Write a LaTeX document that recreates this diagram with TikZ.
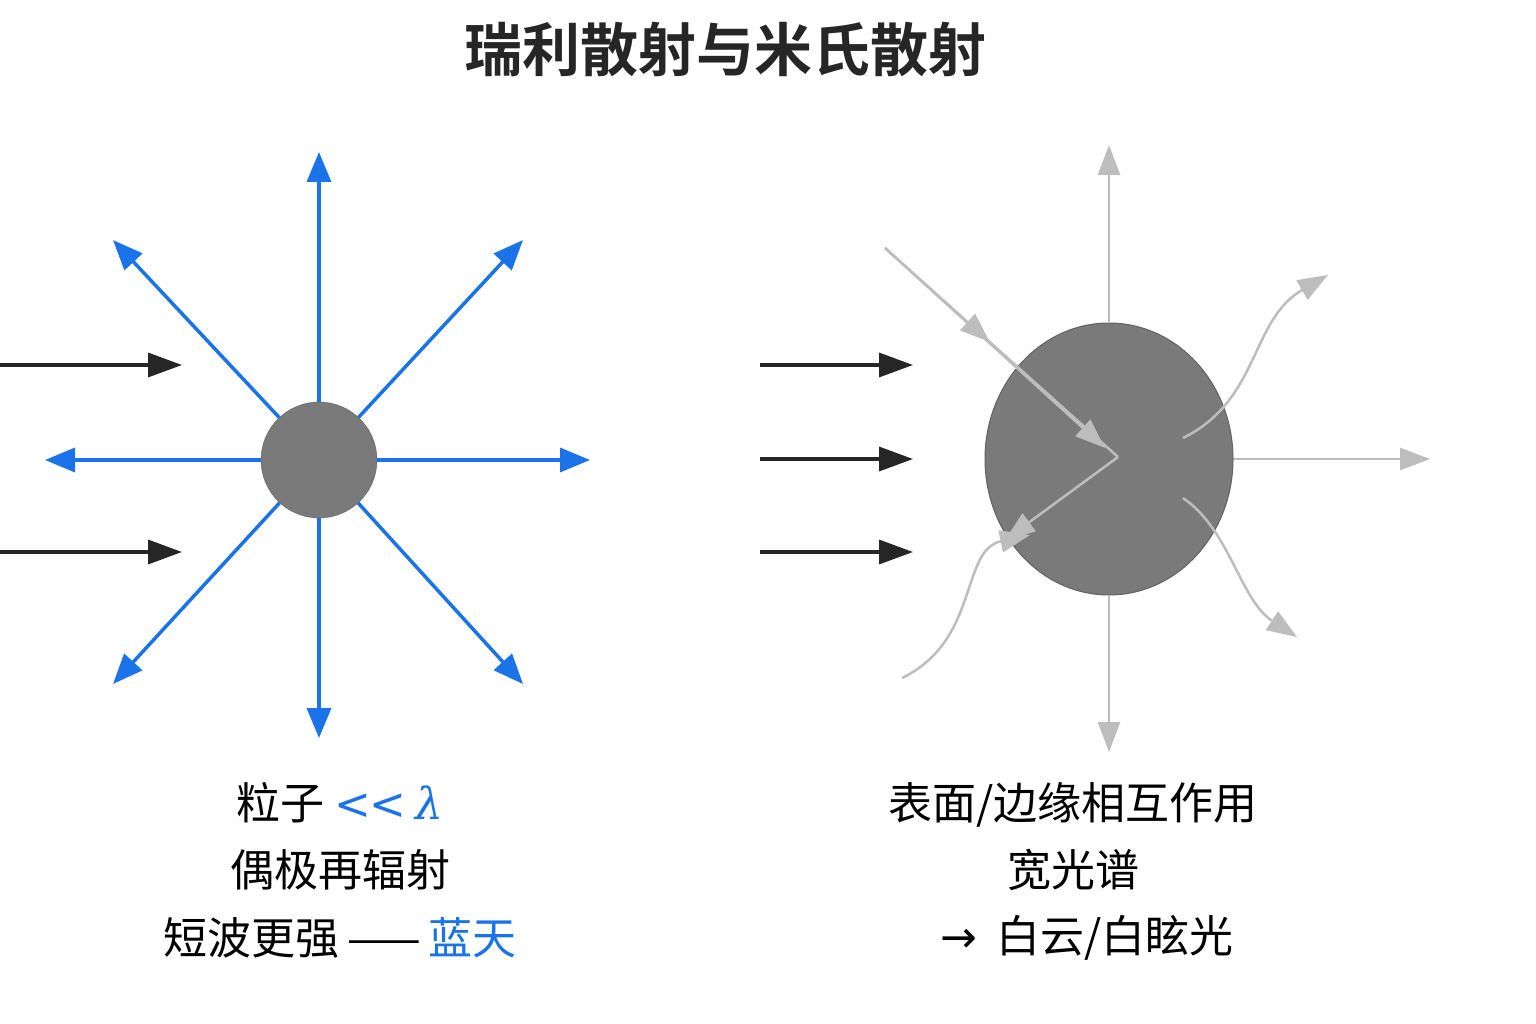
\documentclass[tikz,border=0pt]{standalone}
\usepackage{fontspec}
\setmainfont{Noto Sans CJK SC}
\newfontfamily\cjkb{Noto Sans CJK SC Bold}
\newfontfamily\djv{DejaVu Sans}
\newfontfamily\djs{DejaVu Serif}
\usetikzlibrary{arrows.meta,decorations.markings,shapes.geometric}
\definecolor{blu}{HTML}{1A73E8}
\definecolor{gry}{HTML}{BDBDBD}
\definecolor{ball}{HTML}{7A7A7A}
\begin{document}
\begin{tikzpicture}[x=1pt,y=-1pt,
 blue/.style={draw=blu,line width=3.5pt,-{Triangle[length=30pt,width=24pt]}},
 blk/.style={draw=black!85,line width=3.5pt,-{Triangle[length=34pt,width=24pt]}},
 gr/.style={draw=gry,line width=2.5pt,-{Triangle[length=30pt,width=22pt]}},
 lab/.style={font=\fontsize{44}{52}\selectfont,align=center}]
\useasboundingbox (0,0) rectangle (1536,1024);
\fill[white] (0,0) rectangle (1536,1024);
\node[font=\cjkb\fontsize{58}{66}\selectfont,text=black!85] (title) at (725,50) {瑞利散射与米氏散射};
% left
\node[circle,fill=ball,draw=ball!80!black,minimum width=110pt,minimum height=116pt,inner sep=0] (p) at (319,460) {};
\foreach \n/\x/\y in {u/319/152,d/319/738,l/45/460,r/590/460,ul/113/240,ur/523/240,dl/113/684,dr/523/684}{
 \coordinate (\n) at (\x,\y);
 \draw[blue] (p) -- (\n);}
\coordinate (a1) at (0,365); \coordinate (b1) at (182,365);
\coordinate (a2) at (0,552); \coordinate (b2) at (182,552);
\draw[blk] (a1) -- (b1); \draw[blk] (a2) -- (b2);
\node[lab] (t1) at (340,803) {粒子 \textcolor{blu}{{\djv <\kern-2pt<} {\djs\itshape λ}}};
\node[lab] (t2) at (340,870) {偶极再辐射};
\node[lab] (t3) at (340,938) {短波更强\,——\,\textcolor{blu}{蓝天}};
% right
\node[ellipse,minimum width=248pt,minimum height=272pt,fill=ball,draw=ball!80!black,inner sep=0,line width=1pt] (q) at (1109,459) {};
\foreach \y in {365,459,552}{
 \coordinate (c\y) at (760,\y); \coordinate (e\y) at (913,\y);
 \draw[blk] (c\y) -- (e\y);}
\coordinate (gu) at (1109,145); \coordinate (gd) at (1109,752); \coordinate (gr) at (1430,459);
\draw[gr] (q.north) -- (gu);
\draw[gr] (q.south) -- (gd);
\draw[gr] (q.east) -- (gr);
\coordinate (s) at (885,248); \coordinate (k) at (1118,457); \coordinate (m) at (1005,540);
\draw[gry,line width=2.5pt,postaction={decorate},decoration={markings,mark=at position 0.45 with {\arrow{Triangle[length=30pt,width=22pt]}}}] (s) -- (k);
\draw[gr] (s) -- (1105,448);
\draw[gr] (k) -- (m);
\coordinate (w1) at (1183,438); \coordinate (w1e) at (1328,275);
\draw[gr] (w1) .. controls (1260,400) and (1250,320) .. (w1e);
\coordinate (w2) at (1183,498); \coordinate (w2e) at (1297,637);
\draw[gr] (w2) .. controls (1230,530) and (1240,600) .. (w2e);
\coordinate (w3) at (902,678); \coordinate (w3e) at (1030,535);
\draw[gr] (w3) .. controls (980,640) and (960,550) .. (w3e);
\node[lab] (r1) at (1073,805) {表面/边缘相互作用};
\node[lab] (r2) at (1073,870) {宽光谱};
\node[lab] (r3) at (1087,938) {{\djv →}\ \ 白云/白眩光};
\end{tikzpicture}
\end{document}
